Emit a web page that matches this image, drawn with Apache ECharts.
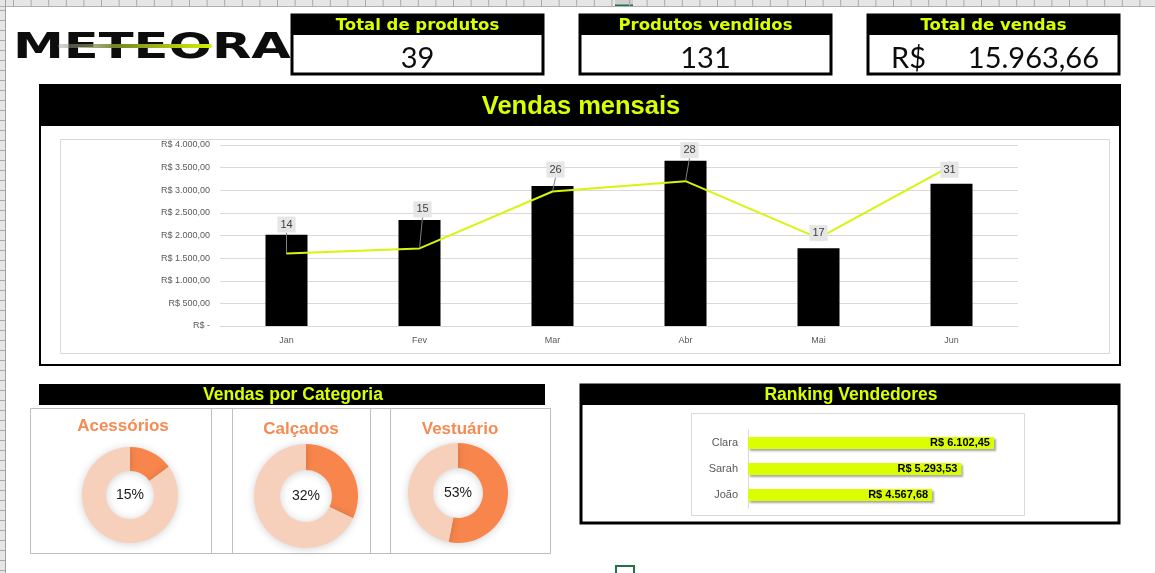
<!DOCTYPE html>
<html><head><meta charset="utf-8">
<script src="https://cdn.jsdelivr.net/npm/echarts@6/dist/echarts.min.js"></script>
<style>html,body{margin:0;padding:0;background:#fff}#c{width:1155px;height:573px}</style>
</head><body><div id="c"></div>
<script>
// ---- data ----
const months = ['Jan', 'Fev', 'Mar', 'Abr', 'Mai', 'Jun'];
const salesValue = [2015, 2340, 3095, 3650, 1720, 3143.66];
const qtySold = [14, 15, 26, 28, 17, 31];
const totalProducts = 39;
const categories = ['Acessórios', 'Calçados', 'Vestuário'];
const categoryShare = [15, 32, 53];
const sellers = ['Clara', 'Sarah', 'João'];
const sellerSales = [6102.45, 5293.53, 4567.68];
const kpiTitles = ['Total de produtos', 'Produtos vendidos', 'Total de vendas'];

// ---- helpers ----
function fmtBR(v) {
  const parts = v.toFixed(2).split('.');
  parts[0] = parts[0].replace(/\B(?=(\d{3})+(?!\d))/g, '.');
  return parts[0] + ',' + parts[1];
}
const sum = a => a.reduce((s, x) => s + x, 0);
const YEL = '#d9ff00';
const ORANGE = '#f8864c';
const PEACH = '#f7d0bb';

// label offsets for the line labels (layout only)
const lblDx = [0, 3, 3, 4, 0, -2];
const lblDy = [-29, -39, -22, -31, -5, 4];

const chart = echarts.init(document.getElementById('c'));
const g = [];

// spreadsheet frame (decorative)
g.push({type:'rect', shape:{x:0,y:0,width:1155,height:6}, style:{fill:'#e6e6e6'}, z:0});
g.push({type:'rect', shape:{x:615,y:0,width:18,height:6}, style:{fill:'#d0d0d0'}, z:0});
g.push({type:'line', shape:{x1:615,y1:5.5,x2:633,y2:5.5}, style:{stroke:'#217346',lineWidth:2}, z:1});
g.push({type:'line', shape:{x1:0,y1:6.5,x2:1155,y2:6.5}, style:{stroke:'#b0b0b0',lineWidth:1}, z:1});
for (let x = 13.5; x < 1155; x += 17.6) {
  g.push({type:'line', shape:{x1:x,y1:0,x2:x,y2:6}, style:{stroke:'#a8a8a8',lineWidth:1}, z:1});
}
g.push({type:'rect', shape:{x:0,y:6,width:5,height:567}, style:{fill:'#e6e6e6'}, z:0});
g.push({type:'line', shape:{x1:5.5,y1:0,x2:5.5,y2:573}, style:{stroke:'#a0a0a0',lineWidth:1}, z:1});
for (let y = 10.5; y < 573; y += 10) {
  g.push({type:'line', shape:{x1:0,y1:y,x2:5,y2:y}, style:{stroke:'#a8a8a8',lineWidth:1}, z:1});
}
g.push({type:'rect', shape:{x:616,y:566,width:18,height:10}, style:{fill:'none',stroke:'#217346',lineWidth:2}, z:1});

// logo
g.push({type:'text', x:13, y:49, scaleX:1.46, style:{text:'METEORA', font:'bold 35px "DejaVu Sans"', fill:'#0d0d0d', align:'left', verticalAlign:'middle'}, z:5});
g.push({type:'rect', shape:{x:58,y:44,width:154,height:4,r:2}, style:{fill:new echarts.graphic.LinearGradient(0,0,1,0,[{offset:0,color:'rgba(150,150,150,0.4)'},{offset:0.4,color:'#7a8a20'},{offset:1,color:'#d4f000'}])}, z:6});

// KPI boxes
const kpiX = [291, 579, 867];
kpiX.forEach((x0, i) => {
  g.push({type:'rect', shape:{x:x0+1,y:15,width:251,height:59}, style:{fill:'#fff',stroke:'#000',lineWidth:3}, z:3});
  g.push({type:'rect', shape:{x:x0,y:14,width:253,height:21}, style:{fill:'#000'}, z:4});
  g.push({type:'text', style:{text:kpiTitles[i], x:x0+126.5, y:26, font:'bold 16.5px "DejaVu Sans"', fill:YEL, align:'center', verticalAlign:'middle'}, z:5});
});
g.push({type:'text', style:{text:String(totalProducts), x:417.5, y:59, font:'29px Lato', fill:'#0d0d0d', align:'center', verticalAlign:'middle'}, z:5});
g.push({type:'text', style:{text:String(sum(qtySold)), x:705.5, y:59, font:'29px Lato', fill:'#0d0d0d', align:'center', verticalAlign:'middle'}, z:5});
g.push({type:'text', style:{text:'R$', x:891, y:59, font:'29px Lato', fill:'#0d0d0d', align:'left', verticalAlign:'middle'}, z:5});
g.push({type:'text', style:{text:fmtBR(sum(salesValue)), x:1099, y:59, font:'29px Lato', fill:'#0d0d0d', align:'right', verticalAlign:'middle'}, z:5});

// main panel
g.push({type:'rect', shape:{x:40,y:85,width:1080,height:280}, style:{fill:'#fff',stroke:'#000',lineWidth:2}, z:0});
g.push({type:'rect', shape:{x:39,y:84,width:1082,height:42}, style:{fill:'#000'}, z:1});
g.push({type:'text', style:{text:'Vendas mensais', x:581, y:107, font:'bold 25.5px "Liberation Sans"', fill:YEL, align:'center', verticalAlign:'middle'}, z:5});
g.push({type:'rect', shape:{x:60.5,y:139.5,width:1049,height:214}, style:{fill:'none',stroke:'#d9d9d9',lineWidth:1}, z:1});

// category panel
g.push({type:'rect', shape:{x:39,y:384,width:506,height:21}, style:{fill:'#000'}, z:1});
g.push({type:'text', style:{text:'Vendas por Categoria', x:293, y:395, font:'bold 17.5px "Liberation Sans"', fill:YEL, align:'center', verticalAlign:'middle'}, z:5});
const cardRects = [[30.5,408.5,202,145],[211.5,408.5,179,145],[370.5,408.5,180,145]];
cardRects.forEach(r => g.push({type:'rect', shape:{x:r[0],y:r[1],width:r[2],height:r[3]}, style:{fill:'none',stroke:'#bfbfbf',lineWidth:1}, z:1}));
const titlePos = [[123,426],[301,429],[460,429]];
categories.forEach((c, i) => g.push({type:'text', style:{text:c, x:titlePos[i][0], y:titlePos[i][1], font:'bold 17px "Liberation Sans"', fill:'#f58a52', align:'center', verticalAlign:'middle'}, z:5}));

// ranking panel
g.push({type:'rect', shape:{x:581,y:385,width:538,height:138}, style:{fill:'#fff',stroke:'#000',lineWidth:3}, z:0});
g.push({type:'rect', shape:{x:580,y:384,width:540,height:21}, style:{fill:'#000'}, z:1});
g.push({type:'text', style:{text:'Ranking Vendedores', x:851, y:395, font:'bold 17.5px "Liberation Sans"', fill:YEL, align:'center', verticalAlign:'middle'}, z:5});
g.push({type:'rect', shape:{x:691.5,y:413.5,width:333,height:102}, style:{fill:'none',stroke:'#d9d9d9',lineWidth:1}, z:1});

const pieCenters = [[130,495],[306,496],[458,493]];
const pieRadii = [[24,48],[26,52],[25,50]];
const pieSeries = categories.map((c, i) => ({
  type:'pie', center:pieCenters[i], radius:pieRadii[i], startAngle:90, clockwise:true,
  silent:true, z:3,
  itemStyle:{shadowBlur:8, shadowColor:'rgba(0,0,0,0.18)', shadowOffsetY:1},
  labelLine:{show:false},
  data:[
    {value:categoryShare[i], name:c, itemStyle:{color:ORANGE},
     label:{show:true, position:'center', formatter:categoryShare[i] + '%', fontSize:14, color:'#1a1a1a', fontFamily:'Liberation Sans'}},
    {value:100 - categoryShare[i], name:'rest', itemStyle:{color:PEACH}, label:{show:false}}
  ]
}));

chart.setOption({
  backgroundColor:'#fff',
  animation:false,
  textStyle:{fontFamily:'Liberation Sans'},
  graphic:{elements:g},
  grid:[
    {left:220, top:145, width:798, height:181},
    {left:748, top:430, width:262, height:78}
  ],
  xAxis:[
    {type:'category', gridIndex:0, data:months,
     axisLine:{lineStyle:{color:'#d9d9d9'}}, axisTick:{show:false},
     axisLabel:{color:'#595959', fontSize:9, margin:10}},
    {type:'value', gridIndex:1, min:0, max:6500, show:false}
  ],
  yAxis:[
    {type:'value', gridIndex:0, min:0, max:4000, interval:500,
     axisLine:{show:false}, axisTick:{show:false},
     splitLine:{lineStyle:{color:'#d9d9d9'}},
     axisLabel:{color:'#595959', fontSize:9, margin:10, formatter:v => v === 0 ? 'R$ -' : 'R$ ' + fmtBR(v)}},
    {type:'value', gridIndex:0, min:0, max:35, show:false, splitLine:{show:false}},
    {type:'category', gridIndex:1, data:sellers, inverse:true,
     axisLine:{lineStyle:{color:'#d9d9d9'}}, axisTick:{show:false},
     axisLabel:{color:'#595959', fontSize:11, margin:10}}
  ],
  series:[
    {type:'bar', xAxisIndex:0, yAxisIndex:0, data:salesValue, barWidth:42, silent:true,
     itemStyle:{color:'#000'}},
    {type:'line', xAxisIndex:0, yAxisIndex:1, data:qtySold, silent:true,
     symbol:'circle', symbolSize:1, itemStyle:{color:'#d7f50a'},
     lineStyle:{color:'#d7f50a', width:2},
     label:{show:true, position:'inside', color:'#404040', fontSize:11, backgroundColor:'#e7e6e6', padding:[3,3,2,3]},
     labelLine:{show:true, lineStyle:{color:'#7f7f7f', width:1}},
     labelLayout:p => ({dx:lblDx[p.dataIndex], dy:lblDy[p.dataIndex]}),
     z:4},
    ...pieSeries,
    {type:'bar', xAxisIndex:1, yAxisIndex:2, data:sellerSales, barWidth:12, silent:true,
     itemStyle:{color:'#dbff00', shadowColor:'rgba(0,0,0,0.35)', shadowBlur:2, shadowOffsetX:2, shadowOffsetY:2},
     label:{show:true, position:'insideRight', formatter:p => 'R$ ' + fmtBR(p.value), color:'#000', fontWeight:'bold', fontSize:11, distance:4},
     z:3}
  ]
});
</script>
</body></html>
